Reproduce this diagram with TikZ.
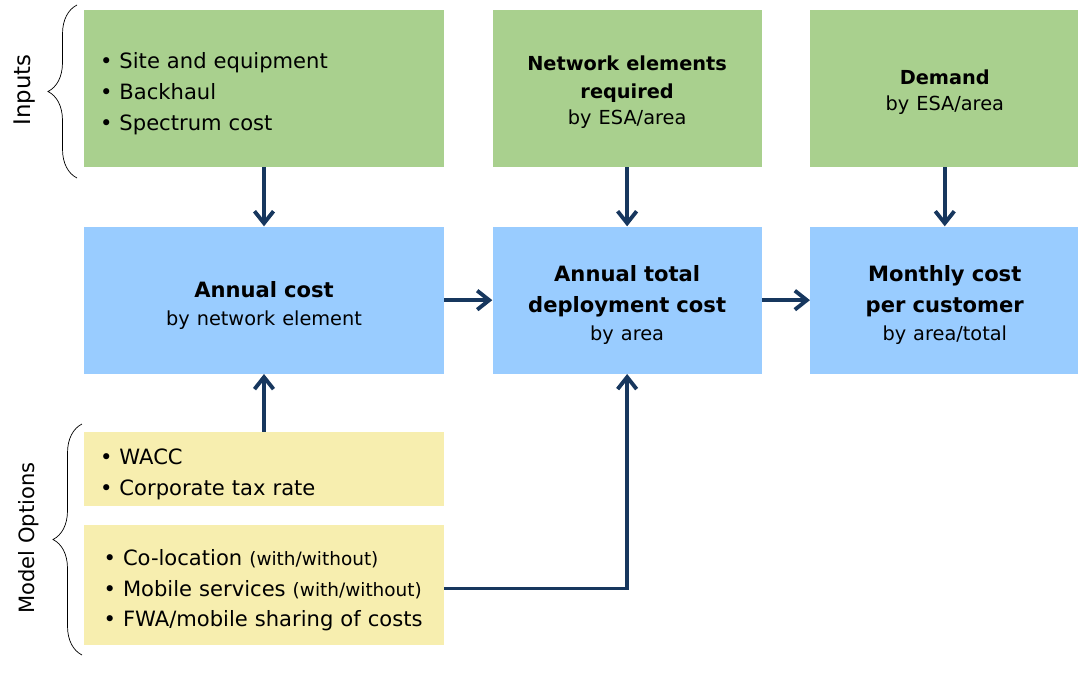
\documentclass[tikz,border=0pt]{standalone}
\usepackage{fontspec}
\setmainfont{DejaVu Sans}
\usetikzlibrary{arrows.meta,positioning,decorations.pathreplacing}
\definecolor{inputgreen}{HTML}{A9D08E}
\definecolor{resultblue}{HTML}{99CCFF}
\definecolor{optionyellow}{HTML}{F7EEAF}
\definecolor{flownavy}{HTML}{17375E}
\tikzset{
    inputbox/.style={fill=inputgreen, inner sep=0pt, minimum height=3.14cm, text width=5cm, align=center, text height=15pt},
    resultbox/.style={fill=resultblue, inner sep=0pt, minimum height=2.94cm, text width=5cm, align=center, text height=15pt},
    optionbox/.style={fill=optionyellow, inner sep=0pt, minimum width=7.2cm, text width=6.56cm, align=left, text height=15pt},
    flow/.style={-{Straight Barb[length=2.4mm, width=3.8mm]}, line width=2.2pt, flownavy},
    group/.style={decorate, decoration={brace, amplitude=5.8mm}, thin},
    headline/.style={font=\fontsize{12}{17.5}\selectfont}
}

\begin{document}
\begin{tikzpicture}[x=0.02cm, y=-0.02cm, headline]
    \useasboundingbox (0,0) rectangle (1078,693);
    \node[inputbox, minimum width=7.2cm, text width=6.56cm, align=left] (site) at (264,88.5)
        {\textbullet\ Site and equipment\\ \textbullet\ Backhaul\\ \textbullet\ Spectrum cost};
    \node[inputbox, minimum width=5.38cm, text height=12.7pt, right=0.96cm of site] (elements)
        {\fontsize{11}{16}\selectfont\textbf{Network elements}\\ \fontsize{11}{16}\selectfont\textbf{required}\\[-2.5pt] \fontsize{11}{15}\selectfont by ESA/area};
    \node[inputbox, minimum width=5.38cm, text height=12.7pt, right=0.96cm of elements] (demand)
        {\fontsize{11}{15}\selectfont\textbf{Demand}\\[-3pt] \fontsize{11}{15}\selectfont by ESA/area};

    \node[resultbox, minimum width=7.2cm, text width=6.56cm, below=1.18cm of site] (annual)
        {\textbf{Annual cost}\\[-1.5pt] \fontsize{11}{16}\selectfont by network element};
    \node[resultbox, minimum width=5.38cm, below=1.18cm of elements] (total)
        {\textbf{Annual total}\\ \textbf{deployment cost}\\[-1.5pt] \fontsize{11}{16}\selectfont by area};
    \node[resultbox, minimum width=5.38cm, below=1.18cm of demand] (monthly)
        {\textbf{Monthly cost}\\ \textbf{per customer}\\[-1.5pt] \fontsize{11}{16}\selectfont by area/total};

    \node[optionbox, minimum height=1.48cm, below=1.16cm of annual] (wacc)
        {\textbullet\ WACC\\ \textbullet\ Corporate tax rate};
    \node[optionbox, minimum height=2.4cm, below=0.36cm of wacc] (colo)
        {\,\textbullet\ Co-location {\fontsize{10.5}{10}\selectfont(with/without)}\\
         \,\textbullet\ Mobile services {\fontsize{10.5}{10}\selectfont(with/without)}\\
         \,\textbullet\ FWA/mobile sharing of costs};

    % groups
    \draw[group] (77,178) -- (77,5);
    \node[rotate=90, font=\fontsize{13}{15}\selectfont] (inputs) at (25,90) {Inputs};
    \draw[group] (82,655) -- (82,424);
    \node[rotate=90] (options) at (29,538) {Model Options};

    \draw[flow] (site) -- (annual);
    \draw[flow] (elements) -- (total);
    \draw[flow] (demand) -- (monthly);
    \draw[flow] (annual) -- (total);
    \draw[flow] (total) -- (monthly);
    \draw[flow] (wacc) -- (annual);
    \draw[flow] ([yshift=-2pt]colo.east) -| (total.south);
\end{tikzpicture}
\end{document}
